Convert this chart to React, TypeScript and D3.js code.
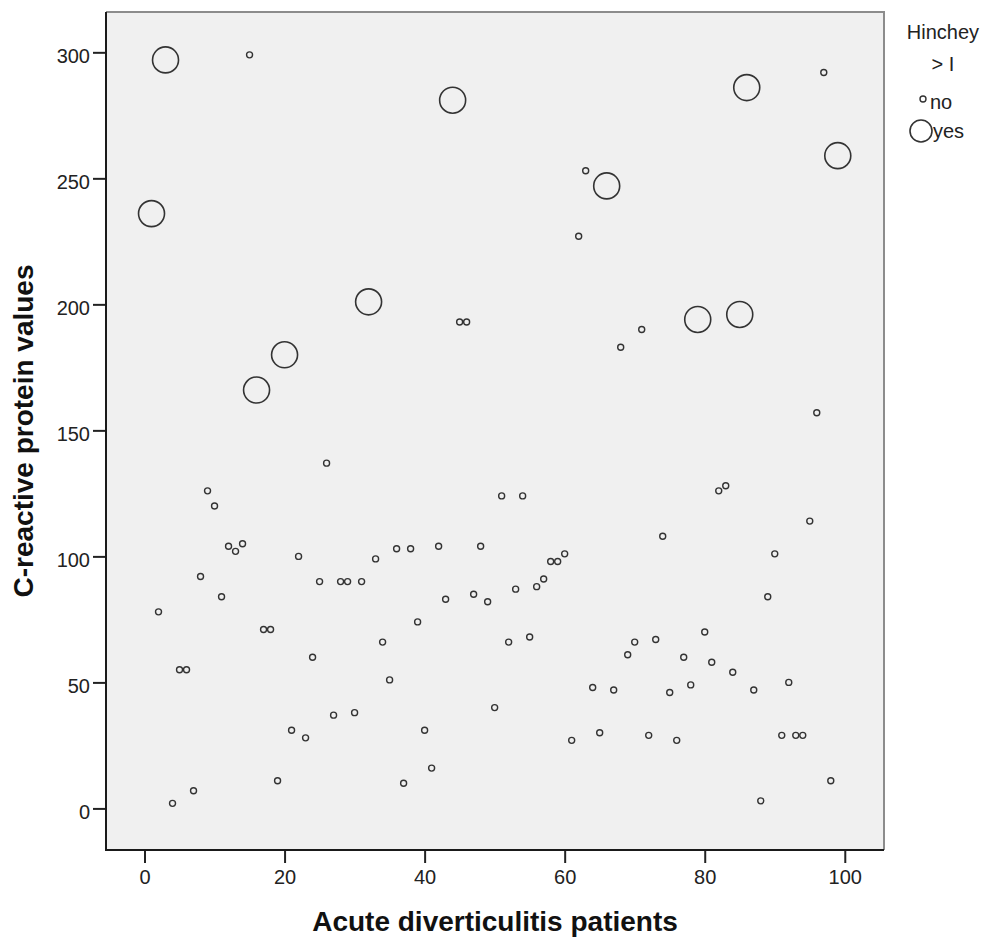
import * as d3 from "d3";
import { useEffect, useRef } from "react";

// patient number on x, CRP on y
const patients = [
  1, 2, 3, 4, 5, 6, 7, 8, 9, 10, 11, 12, 13, 14, 15, 16, 17, 18, 19, 20,
  21, 22, 23, 24, 25, 26, 27, 28, 29, 30, 31, 32, 33, 34, 35, 36, 37, 38, 39, 40,
  41, 42, 43, 44, 45, 46, 47, 48, 49, 50, 51, 52, 53, 54, 55, 56, 57, 58, 59, 60,
  61, 62, 63, 64, 65, 66, 67, 68, 69, 70, 71, 72, 73, 74, 75, 76, 77, 78, 79, 80,
  81, 82, 83, 84, 85, 86, 87, 88, 89, 90, 91, 92, 93, 94, 95, 96, 97, 98, 99,
];

const crp = [
  236, 78, 297, 2, 55, 55, 7, 92, 126, 120, 84, 104, 102, 105, 299, 166, 71, 71, 11, 180,
  31, 100, 28, 60, 90, 137, 37, 90, 90, 38, 90, 201, 99, 66, 51, 103, 10, 103, 74, 31,
  16, 104, 83, 281, 193, 193, 85, 104, 82, 40, 124, 66, 87, 124, 68, 88, 91, 98, 98, 101,
  27, 227, 253, 48, 30, 247, 47, 183, 61, 66, 190, 29, 67, 108, 46, 27, 60, 49, 194, 70,
  58, 126, 128, 54, 196, 286, 47, 3, 84, 101, 29, 50, 29, 29, 114, 157, 292, 11, 259,
];

// patients with Hinchey > I
const hincheyYes = [1, 3, 16, 20, 32, 44, 66, 79, 85, 86, 99];

const xTicks = [0, 20, 40, 60, 80, 100];
const yTicks = [0, 50, 100, 150, 200, 250, 300];

const W = 991;
const H = 938;
const margin = { top: 12, right: 107, bottom: 88, left: 106 };
const font = "'Liberation Sans', Arial, sans-serif";

const App = () => {
  const gRef = useRef(null);

  const innerW = W - margin.left - margin.right;
  const innerH = H - margin.top - margin.bottom;

  const x = d3.scaleLinear().domain([-5.5, 105.6]).range([0, innerW]);
  const y = d3.scaleLinear().domain([-16.5, 316]).range([innerH, 0]);

  const data = patients.map((p, i) => ({ p, v: crp[i], yes: hincheyYes.includes(p) }));

  useEffect(() => {
    const g = d3.select(gRef.current);
    g.selectAll("*").remove();

    g.append("rect")
      .attr("width", innerW)
      .attr("height", innerH)
      .attr("fill", "#f0f0f0");

    // top and right frame (lighter)
    g.append("path")
      .attr("d", `M0,0H${innerW}V${innerH}`)
      .attr("fill", "none")
      .attr("stroke", "#8c8c8c")
      .attr("stroke-width", 2);

    const yAxis = d3.axisLeft(y).tickValues(yTicks).tickSize(13).tickPadding(3);
    const ya = g.append("g").call(yAxis);
    ya.select(".domain").remove();
    ya.selectAll("line").attr("stroke", "#222").attr("stroke-width", 2);
    ya.selectAll("text")
      .attr("dy", "0.5em")
      .style("font-family", font)
      .style("font-size", "20px")
      .attr("fill", "#222");

    const xAxis = d3.axisBottom(x).tickValues(xTicks).tickSize(13).tickPadding(7);
    const xa = g.append("g").attr("transform", `translate(0,${innerH})`).call(xAxis);
    xa.select(".domain").remove();
    xa.selectAll("line").attr("stroke", "#222").attr("stroke-width", 2);
    xa.selectAll("text")
      .style("font-family", font)
      .style("font-size", "20px")
      .attr("fill", "#222");

    // left and bottom axis lines
    g.append("path")
      .attr("d", `M0,0V${innerH}H${innerW}`)
      .attr("fill", "none")
      .attr("stroke", "#1a1a1a")
      .attr("stroke-width", 2);

    g.selectAll(".dot")
      .data(data)
      .enter()
      .append("circle")
      .attr("cx", d => x(d.p))
      .attr("cy", d => y(d.v))
      .attr("r", d => (d.yes ? 13 : 3))
      .attr("fill", "none")
      .attr("stroke", "#333")
      .attr("stroke-width", d => (d.yes ? 1.6 : 1.4));
  }, []);

  return (
    <svg width={W} height={H} style={{ position: "absolute", left: 0, top: 0, background: "#fff" }}>
      <g ref={gRef} transform={`translate(${margin.left},${margin.top})`} />
      <text
        x={margin.left + innerW / 2}
        y={931}
        textAnchor="middle"
        fontFamily={font}
        fontWeight="bold"
        fontSize={28}
        fill="#111"
      >
        Acute diverticulitis patients
      </text>
      <text
        transform={`translate(33,${margin.top + innerH / 2}) rotate(-90)`}
        textAnchor="middle"
        fontFamily={font}
        fontWeight="bold"
        fontSize={28}
        fill="#111"
      >
        C-reactive protein values
      </text>
      {/* legend */}
      <g fontFamily={font} fill="#222">
        <text x={943} y={39} textAnchor="middle" fontSize={20}>Hinchey</text>
        <text x={943} y={71} textAnchor="middle" fontSize={20}>{"> I"}</text>
        <circle cx={923} cy={99} r={3} fill="none" stroke="#333" strokeWidth={1.4} />
        <text x={930} y={109} fontSize={20}>no</text>
        <circle cx={921} cy={131} r={11} fill="none" stroke="#333" strokeWidth={1.6} />
        <text x={933} y={138} fontSize={20}>yes</text>
      </g>
    </svg>
  );
};

export default App;
